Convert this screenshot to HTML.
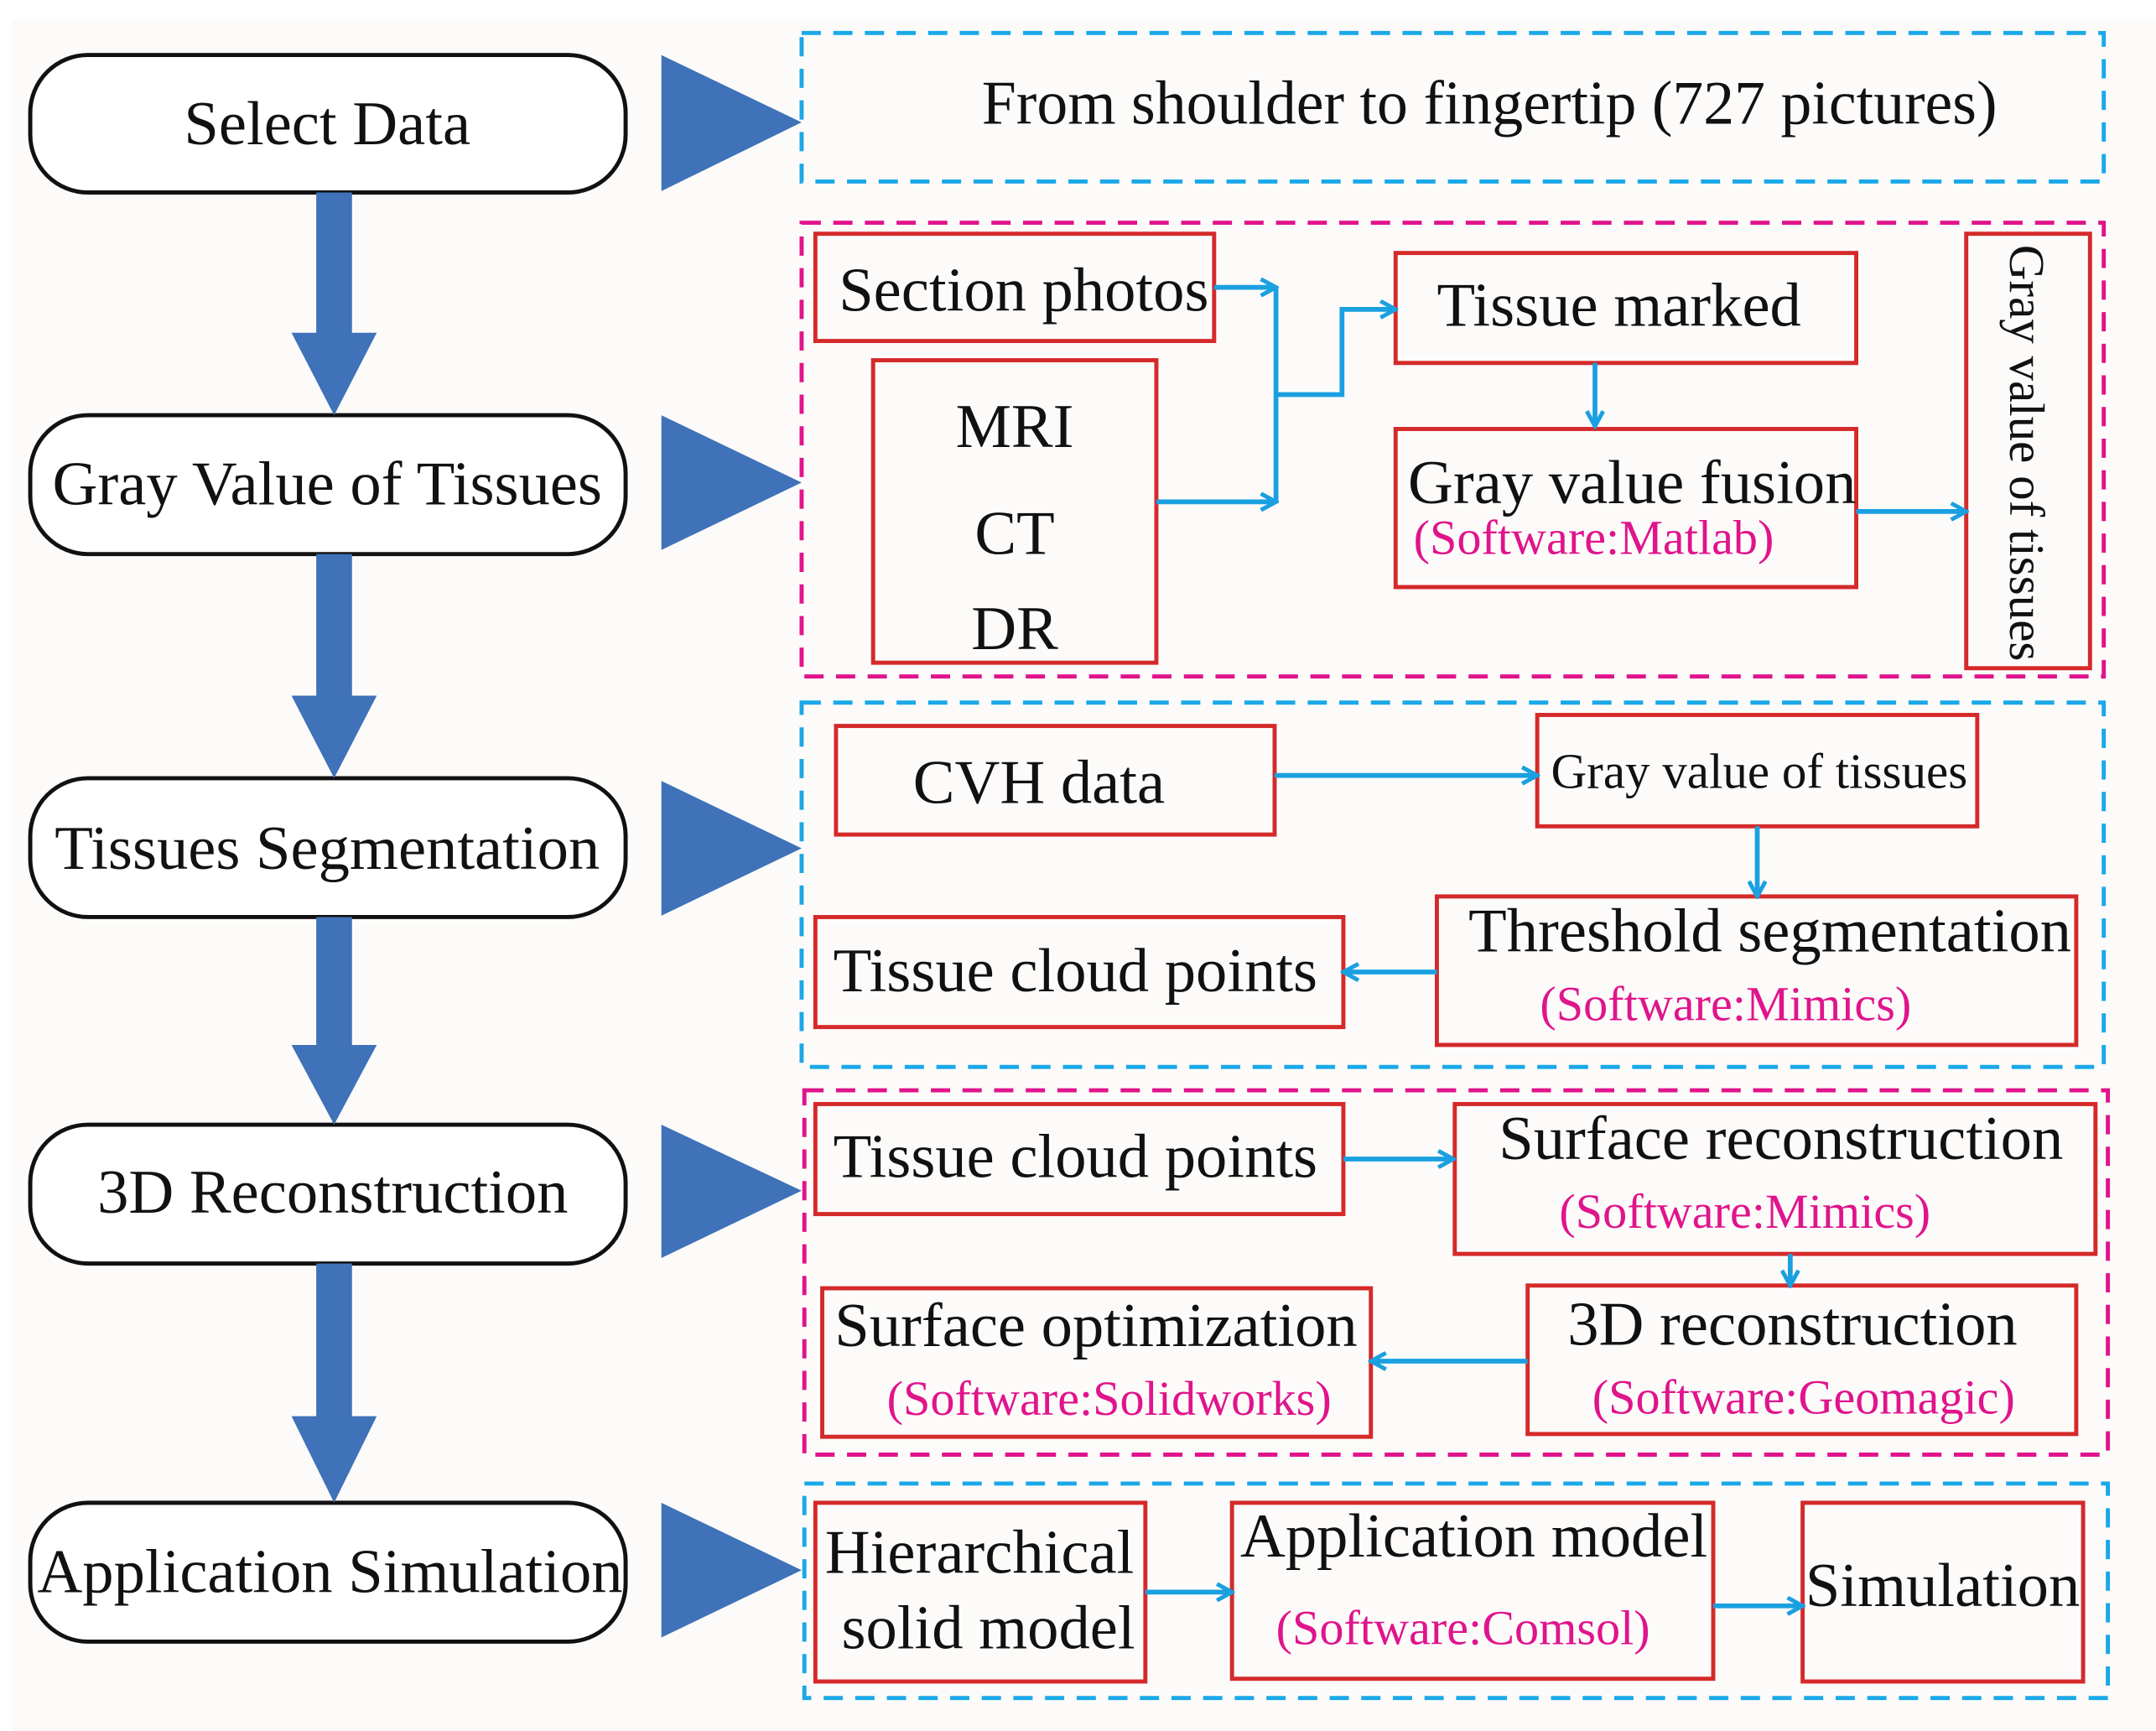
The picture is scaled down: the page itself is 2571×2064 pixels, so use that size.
<!DOCTYPE html>
<html><head><meta charset="utf-8"><style>
html,body{margin:0;padding:0;background:#fff;}
svg{display:block;}
text{font-family:"Liberation Serif",serif;fill:#111;}
.m{fill:#e0148c;}
</style></head><body>
<svg width="2571" height="2064" viewBox="0 0 1568 1259" preserveAspectRatio="none" xmlns="http://www.w3.org/2000/svg">
<defs>
<marker id="b" markerWidth="14" markerHeight="14" refX="12" refY="7" orient="auto" markerUnits="userSpaceOnUse"><path d="M1,1 L12,7 L1,13" fill="none" stroke="#1aa0e0" stroke-width="3"/></marker>
</defs>
<rect x="8" y="14" width="1560" height="1245" fill="#fdfbfa"/>
<g fill="#fff" stroke="#111" stroke-width="3">
<rect x="22" y="40" width="433" height="100" rx="42"/>
<rect x="22" y="302" width="433" height="101" rx="42"/>
<rect x="22" y="566" width="433" height="101" rx="42"/>
<rect x="22" y="818" width="433" height="101" rx="42"/>
<rect x="22" y="1093" width="433" height="101" rx="42"/>
</g>
<g font-size="45.5" text-anchor="middle">
<text x="238" y="105">Select Data</text>
<text x="238" y="367">Gray Value of Tissues</text>
<text x="238" y="632">Tissues Segmentation</text>
<text x="242" y="882">3D  Reconstruction</text>
<text x="240" y="1158">Application Simulation</text>
</g>
<g fill="#3f72b8">
<rect x="230" y="140" width="26" height="104"/><polygon points="212,242 274,242 243,302"/>
<rect x="230" y="403" width="26" height="105"/><polygon points="212,506 274,506 243,566"/>
<rect x="230" y="667" width="26" height="95"/><polygon points="212,760 274,760 243,818"/>
<rect x="230" y="919" width="26" height="112"/><polygon points="212,1030 274,1030 243,1093"/>
<polygon points="481,40 583,89 481,139"/>
<polygon points="481,302 583,351 481,400"/>
<polygon points="481,568 583,617 481,666"/>
<polygon points="481,818 583,866 481,915"/>
<polygon points="481,1093 583,1142 481,1191"/>
</g>
<g fill="none" stroke-width="3" stroke-dasharray="14,9">
<rect x="583" y="24" width="947" height="108" stroke="#1aa8e8"/>
<rect x="583" y="162" width="947" height="330" stroke="#e0148c"/>
<rect x="583" y="511" width="947" height="265" stroke="#1aa8e8"/>
<rect x="585" y="793" width="948" height="265" stroke="#e0148c"/>
<rect x="585" y="1079" width="948" height="156" stroke="#1aa8e8"/>
</g>
<text x="714" y="90" font-size="45">From shoulder to fingertip (727 pictures)</text>
<g fill="none" stroke="#d42a2a" stroke-width="3">
<rect x="593" y="170" width="290" height="78"/>
<rect x="635" y="262" width="206" height="220"/>
<rect x="1015" y="184" width="335" height="80"/>
<rect x="1015" y="312" width="335" height="115"/>
<rect x="1430" y="170" width="90" height="316"/>
<rect x="608" y="528" width="319" height="79"/>
<rect x="1118" y="520" width="320" height="81"/>
<rect x="1045" y="652" width="465" height="108"/>
<rect x="593" y="667" width="384" height="80"/>
<rect x="593" y="803" width="384" height="80"/>
<rect x="1058" y="803" width="466" height="109"/>
<rect x="1111" y="935" width="399" height="108"/>
<rect x="598" y="937" width="399" height="108"/>
<rect x="593" y="1093" width="240" height="130"/>
<rect x="896" y="1093" width="350" height="128"/>
<rect x="1311" y="1093" width="204" height="130"/>
</g>
<g font-size="45.5">
<text x="610" y="226">Section photos</text>
<text x="738" y="325" text-anchor="middle">MRI</text>
<text x="738" y="403" text-anchor="middle">CT</text>
<text x="738" y="472" text-anchor="middle">DR</text>
<text x="1045" y="237">Tissue marked</text>
<text x="1024" y="366">Gray value fusion</text>
<text transform="translate(1462,178) rotate(90)" font-size="36">Gray value of tissues</text>
<text x="664" y="584">CVH data</text>
<text x="1128" y="573" font-size="36">Gray value of tissues</text>
<text x="1068" y="692">Threshold segmentation</text>
<text x="606" y="721">Tissue cloud points</text>
<text x="606" y="856">Tissue cloud points</text>
<text x="1090" y="843">Surface  reconstruction</text>
<text x="1140" y="978">3D  reconstruction</text>
<text x="607" y="979">Surface optimization</text>
<text x="600" y="1144">Hierarchical</text>
<text x="612" y="1199">solid model</text>
<text x="902" y="1132">Application model</text>
<text x="1313" y="1168">Simulation</text>
</g>
<g font-size="35.5">
<text class="m" x="1028" y="403">(Software:Matlab)</text>
<text class="m" x="1120" y="742">(Software:Mimics)</text>
<text class="m" x="1134" y="893">(Software:Mimics)</text>
<text class="m" x="1158" y="1028">(Software:Geomagic)</text>
<text class="m" x="645" y="1029">(Software:Solidworks)</text>
<text class="m" x="928" y="1196">(Software:Comsol)</text>
</g>
<g fill="none" stroke="#1aa0e0" stroke-width="3.5">
<path d="M883,209 H928" marker-end="url(#b)"/>
<path d="M928,209 V365"/>
<path d="M841,365 H928" marker-end="url(#b)"/>
<path d="M928,287 H976 V225 H1015" marker-end="url(#b)"/>
<path d="M1160,264 V310" marker-end="url(#b)"/>
<path d="M1350,372 H1430" marker-end="url(#b)"/>
<path d="M927,564 H1118" marker-end="url(#b)"/>
<path d="M1278,601 V652" marker-end="url(#b)"/>
<path d="M1045,707 H977" marker-end="url(#b)"/>
<path d="M977,843 H1057" marker-end="url(#b)"/>
<path d="M1302,912 V935" marker-end="url(#b)"/>
<path d="M1111,990 H997" marker-end="url(#b)"/>
<path d="M833,1158 H896" marker-end="url(#b)"/>
<path d="M1246,1168 H1311" marker-end="url(#b)"/>
</g>
</svg>
</body></html>
